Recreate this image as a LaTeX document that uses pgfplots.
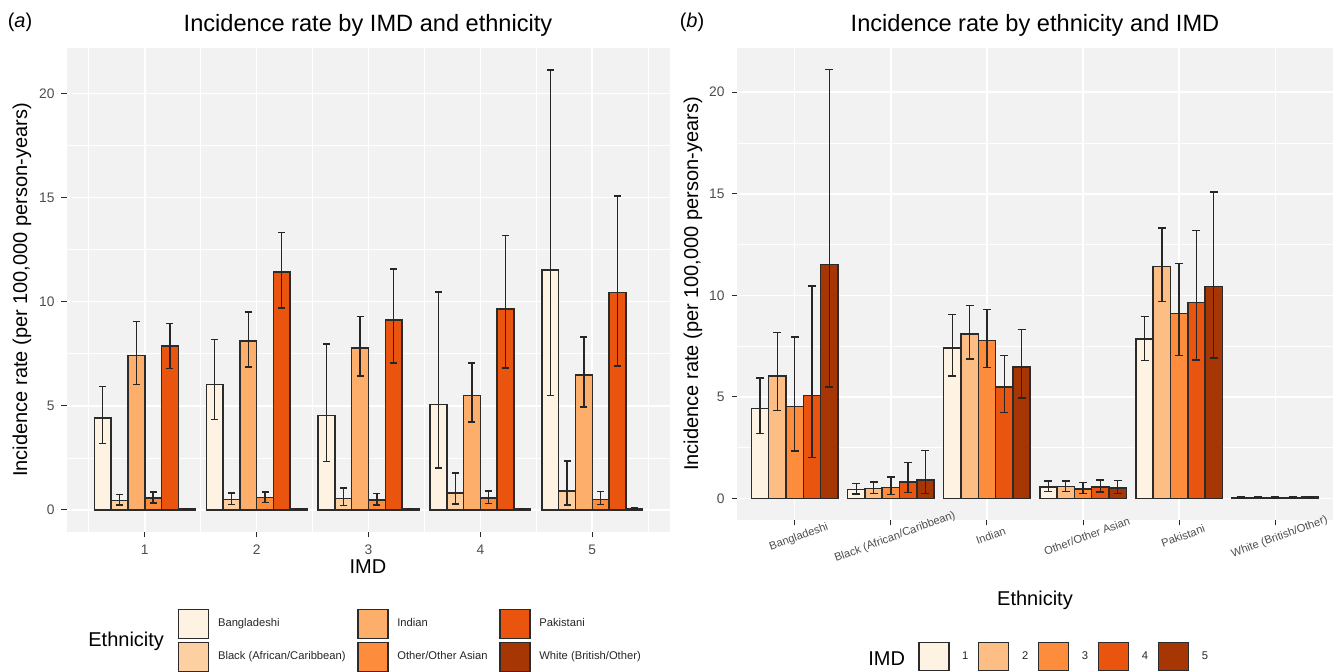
\documentclass[border=0pt]{standalone}
\usepackage{fontspec}
\setmainfont{Liberation Sans}
\usepackage{pgfplots}
\usepackage{pgfplotstable}
\pgfplotsset{compat=1.18}

\definecolor{panelbg}{HTML}{F2F2F2}
\definecolor{outl}{HTML}{2B2B2B}
\definecolor{tickgrey}{HTML}{4D4D4D}
\definecolor{eA}{HTML}{FEF3E3}
\definecolor{eB}{HTML}{FDD0A2}
\definecolor{eC}{HTML}{FDAE6B}
\definecolor{eD}{HTML}{FD8D3C}
\definecolor{eE}{HTML}{E9540E}
\definecolor{eF}{HTML}{A63603}
\definecolor{iA}{HTML}{FEF3E3}
\definecolor{iB}{HTML}{FDBE85}
\definecolor{iC}{HTML}{FD8D3C}
\definecolor{iD}{HTML}{E9540E}
\definecolor{iE}{HTML}{A63603}

% Panel (a): one table per ethnicity, rows by IMD
\pgfplotstableread{
imd y ep em
1 4.42 1.51 1.23
2 6.02 2.15 1.69
3 4.53 3.43 2.20
4 5.07 5.40 3.05
5 11.52 9.60 6.03
}\tBang
\pgfplotstableread{
imd y ep em
1 0.45 0.29 0.22
2 0.50 0.31 0.24
3 0.55 0.51 0.34
4 0.81 0.96 0.52
5 0.92 1.43 0.68
}\tBlack
\pgfplotstableread{
imd y ep em
1 7.42 1.63 1.39
2 8.11 1.39 1.25
3 7.78 1.52 1.34
4 5.50 1.55 1.28
5 6.47 1.84 1.53
}\tInd
\pgfplotstableread{
imd y ep em
1 0.57 0.29 0.23
2 0.60 0.27 0.25
3 0.48 0.30 0.24
4 0.57 0.35 0.25
5 0.51 0.37 0.25
}\tOth
\pgfplotstableread{
imd y ep em
1 7.86 1.09 1.07
2 11.42 1.90 1.73
3 9.11 2.46 2.06
4 9.64 3.54 2.82
5 10.44 4.64 3.53
}\tPak
\pgfplotstableread{
imd y ep em
1 0.05 0.02 0.02
2 0.06 0.02 0.02
3 0.05 0.02 0.02
4 0.05 0.02 0.02
5 0.08 0.03 0.03
}\tWhite

% Panel (b): one table per IMD, rows by ethnicity
\pgfplotstableread{
eth y ep em
1 4.42 1.51 1.23
2 0.45 0.29 0.22
3 7.42 1.63 1.39
4 0.57 0.29 0.23
5 7.86 1.09 1.07
6 0.05 0.02 0.02
}\tI
\pgfplotstableread{
eth y ep em
1 6.02 2.15 1.69
2 0.50 0.31 0.24
3 8.11 1.39 1.25
4 0.60 0.27 0.25
5 11.42 1.90 1.73
6 0.06 0.02 0.02
}\tII
\pgfplotstableread{
eth y ep em
1 4.53 3.43 2.20
2 0.55 0.51 0.34
3 7.78 1.52 1.34
4 0.48 0.30 0.24
5 9.11 2.46 2.06
6 0.05 0.02 0.02
}\tIII
\pgfplotstableread{
eth y ep em
1 5.07 5.40 3.05
2 0.81 0.96 0.52
3 5.50 1.55 1.28
4 0.57 0.35 0.25
5 9.64 3.54 2.82
6 0.05 0.02 0.02
}\tIV
\pgfplotstableread{
eth y ep em
1 11.52 9.60 6.03
2 0.92 1.43 0.68
3 6.47 1.84 1.53
4 0.51 0.37 0.25
5 10.44 4.64 3.53
6 0.08 0.03 0.03
}\tV

\pgfplotsset{
  base/.style={
    scale only axis,
    axis background/.style={fill=panelbg},
    axis line style={draw=none},
    xmajorgrids, ymajorgrids, yminorgrids,
    major grid style={white, line width=0.8pt},
    minor grid style={white, line width=0.4pt},
    tick align=outside,
    tick pos=left,
    major tick length=2.75pt,
    minor tick length=0pt,
    tick style={color=outl, line width=0.5pt},
    ymin=-1.056, ymax=22.176,
    ytick={0,5,10,15,20},
    minor ytick={2.5,7.5,12.5,17.5},
    ticklabel style={font=\fontsize{6.9}{8}\selectfont, text=tickgrey},
    /pgf/number format/assume math mode=true,
    legend cell align=left,
  },
  ebar/.style={
    /pgfplots/error bars/y dir=both,
    /pgfplots/error bars/y explicit,
    /pgfplots/error bars/error bar style={line width=0.7pt, color=black!85, solid},
    /pgfplots/error bars/error mark=-,
    /pgfplots/error bars/error mark options={line width=0.7pt, mark size=#1, color=black!85, solid, rotate=90},
  },
  abar/.style={ybar, bar width=0.15, bar shift=0pt, draw=outl, line width=0.75pt, fill=#1, mark=none, solid,
    legend image code/.code={\draw[fill=#1, draw=outl, line width=0.75pt, solid] (0pt,-7.25pt) rectangle (15pt,7.25pt);}},
  bbar/.style={ybar, bar width=0.18, bar shift=0pt, draw=outl, line width=0.75pt, fill=#1, mark=none, solid,
    legend image code/.code={\draw[fill=#1, draw=outl, line width=0.75pt, solid] (0pt,-7pt) rectangle (15pt,7pt);}},
}

\begin{document}
\begin{tikzpicture}
\path[use as bounding box] (0pt,0pt) rectangle (670.5pt,336pt);

% ---------------- Panel (a)
\begin{axis}[base,
  at={(33.5pt,70pt)}, anchor=south west,
  width=301.5pt, height=242pt,
  xmin=0.305, xmax=5.695,
  xtick={1,2,3,4,5},
  minor xtick={0.5,1.5,2.5,3.5,4.5,5.5},
  xminorgrids,
  legend columns=3,
  legend style={at={(0.184,-0.159)}, anchor=north west, draw=none, fill=none,
    inner sep=0pt, outer sep=0pt, row sep=1.2pt,
    font=\fontsize{5.6}{6.7}\selectfont, text=black!85,
    nodes={inner sep=0.8pt},
    /tikz/every odd column/.append style={column sep=3.5pt},
    /tikz/every even column/.append style={column sep=5pt}},
]
\addplot[abar=eA, ebar=1.75pt] table[x expr=\thisrow{imd}-0.375, y=y, y error plus=ep, y error minus=em] {\tBang};
\addlegendentry{Bangladeshi}
\addplot[abar=eC, ebar=1.75pt] table[x expr=\thisrow{imd}-0.075, y=y, y error plus=ep, y error minus=em] {\tInd};
\addlegendentry{Indian}
\addplot[abar=eE, ebar=1.75pt] table[x expr=\thisrow{imd}+0.225, y=y, y error plus=ep, y error minus=em] {\tPak};
\addlegendentry{Pakistani}
\addplot[abar=eB, ebar=1.75pt] table[x expr=\thisrow{imd}-0.225, y=y, y error plus=ep, y error minus=em] {\tBlack};
\addlegendentry{Black (African/Caribbean)}
\addplot[abar=eD, ebar=1.75pt] table[x expr=\thisrow{imd}+0.075, y=y, y error plus=ep, y error minus=em] {\tOth};
\addlegendentry{Other/Other Asian}
\addplot[abar=eF, ebar=1.75pt] table[x expr=\thisrow{imd}+0.375, y=y, y error plus=ep, y error minus=em] {\tWhite};
\addlegendentry{White (British/Other)}
\end{axis}

% ---------------- Panel (b)
\begin{axis}[base,
  at={(368.5pt,76pt)}, anchor=south west,
  width=298pt, height=236pt,
  xmin=0.4, xmax=6.6,
  xtick={1,2,3,4,5,6},
  xticklabels={Bangladeshi, Black (African/Caribbean), Indian, Other/Other Asian, Pakistani, White (British/Other)},
  xticklabel style={rotate=20, anchor=north, font=\fontsize{5.6}{6.6}\selectfont, text=tickgrey},
  legend columns=5,
  legend style={at={(0.3037,-0.2585)}, anchor=north west, draw=none, fill=none,
    inner sep=0pt, outer sep=0pt,
    font=\fontsize{5.6}{6.7}\selectfont, text=black!85,
    nodes={inner sep=0.8pt},
    /tikz/every odd column/.append style={column sep=5.5pt},
    /tikz/every even column/.append style={column sep=4pt}},
]
\addplot[bbar=iA, ebar=2pt] table[x expr=\thisrow{eth}-0.36, y=y, y error plus=ep, y error minus=em] {\tI};
\addlegendentry{1}
\addplot[bbar=iB, ebar=2pt] table[x expr=\thisrow{eth}-0.18, y=y, y error plus=ep, y error minus=em] {\tII};
\addlegendentry{2}
\addplot[bbar=iC, ebar=2pt] table[x expr=\thisrow{eth}, y=y, y error plus=ep, y error minus=em] {\tIII};
\addlegendentry{3}
\addplot[bbar=iD, ebar=2pt] table[x expr=\thisrow{eth}+0.18, y=y, y error plus=ep, y error minus=em] {\tIV};
\addlegendentry{4}
\addplot[bbar=iE, ebar=2pt] table[x expr=\thisrow{eth}+0.36, y=y, y error plus=ep, y error minus=em] {\tV};
\addlegendentry{5}
\end{axis}

% ---------------- Texts
\node[font=\fontsize{10}{12}\selectfont] at (10pt,325pt) {(\textit{a})};
\node[font=\fontsize{10}{12}\selectfont] at (346pt,325pt) {(\textit{b})};
\node[font=\fontsize{11.8}{14}\selectfont] at (184pt,323.5pt) {Incidence rate by IMD and ethnicity};
\node[font=\fontsize{11.8}{14}\selectfont] at (517.5pt,323.5pt) {Incidence rate by ethnicity and IMD};
\node[font=\fontsize{10}{12}\selectfont, rotate=90] at (11pt,191pt) {Incidence rate (per 100,000 person-years)};
\node[font=\fontsize{10}{12}\selectfont, rotate=90] at (346.5pt,194pt) {Incidence rate (per 100,000 person-years)};
\node[font=\fontsize{10}{12}\selectfont] at (184pt,52.5pt) {IMD};
\node[font=\fontsize{10}{12}\selectfont] at (517.5pt,36pt) {Ethnicity};
\node[font=\fontsize{10}{12}\selectfont, anchor=west, inner sep=0pt] at (44pt,15.5pt) {Ethnicity};
\node[font=\fontsize{10}{12}\selectfont, anchor=west, inner sep=0pt] at (434pt,6.5pt) {IMD};
\end{tikzpicture}
\end{document}
